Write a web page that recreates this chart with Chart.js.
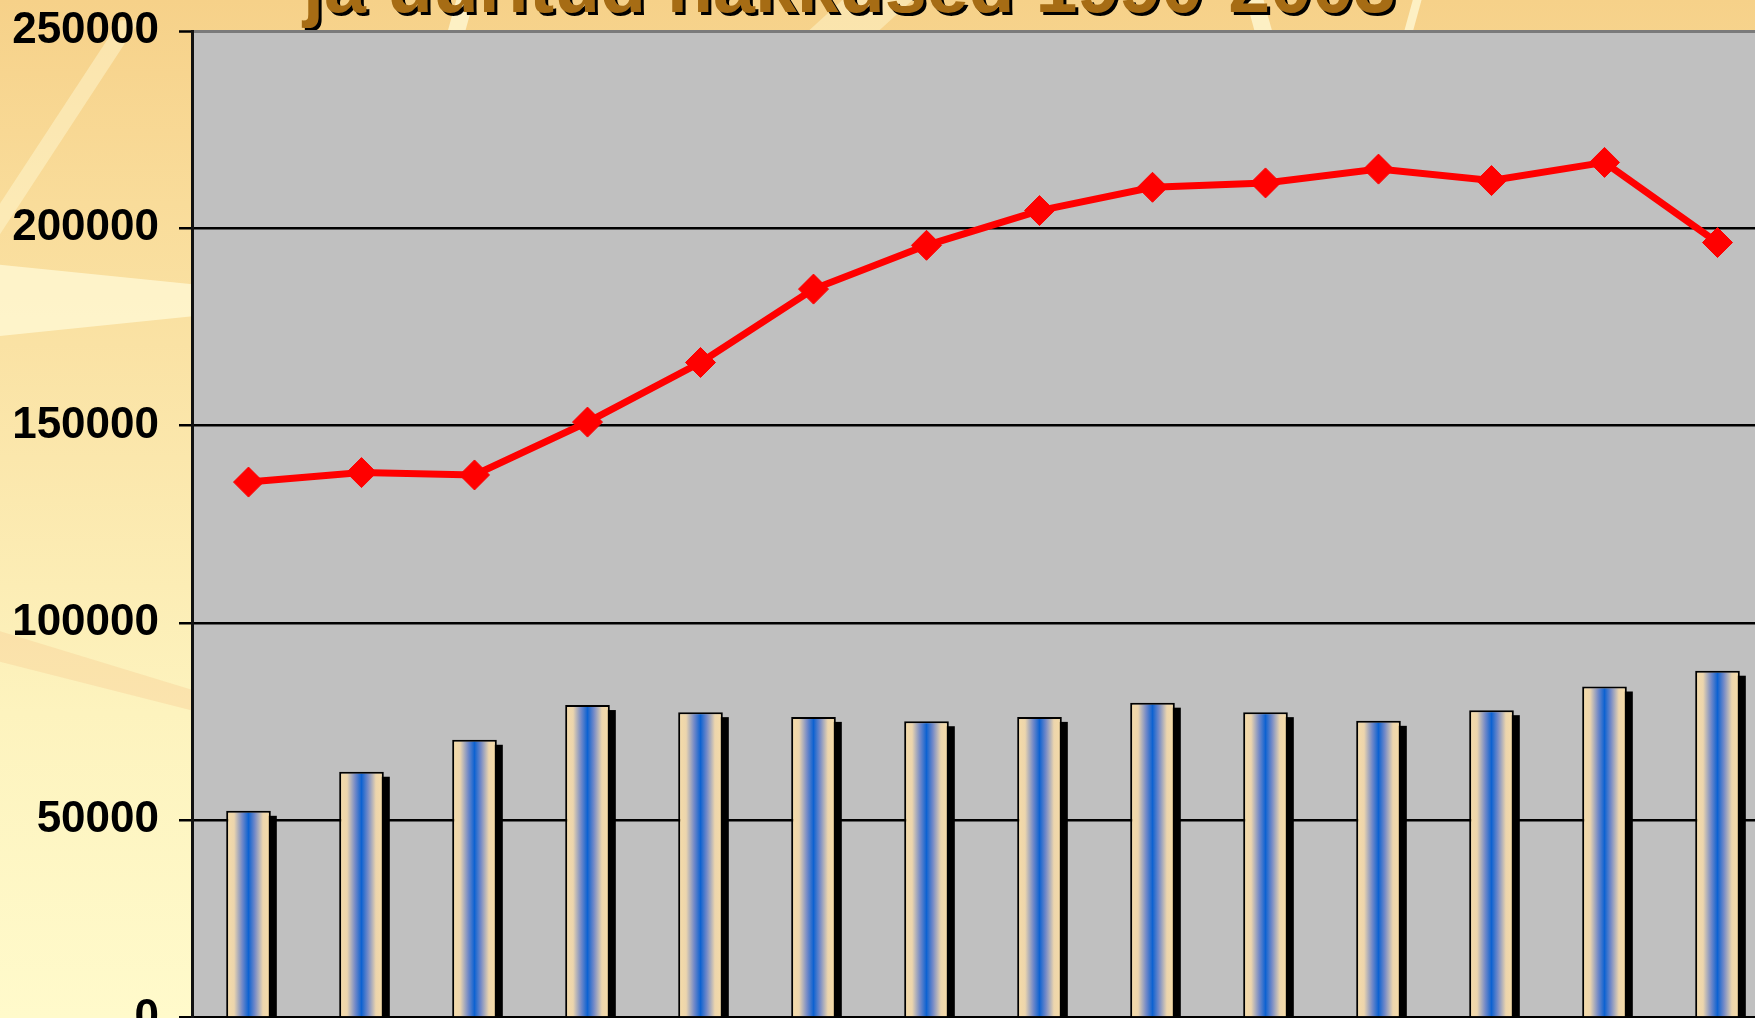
<!DOCTYPE html>
<html>
<head>
<meta charset="utf-8">
<script src="https://cdn.jsdelivr.net/npm/chart.js@4.4.0/dist/chart.umd.min.js"></script>
<style>
html, body { margin: 0; padding: 0; width: 1755px; height: 1018px; overflow: hidden; }
body {
    position: relative;
    font-family: "Liberation Sans", Arial, sans-serif;
    background: linear-gradient(to bottom, #f6d189 0%, #f9dc9a 20%, #fbe7ac 45%, #fdf3be 70%, #fffacb 100%);
}
.streak { position: absolute; background: rgba(255, 250, 215, 0.75); }
#title {
    position: absolute;
    left: 303px;
    white-space: nowrap;
    font-weight: bold;
    color: #a66c14;
    text-shadow: 3px 3px 0 #000;
    line-height: 1;
}
#wrap { position: absolute; left: 0; top: 0; width: 1790px; height: 1080px; }
</style>
</head>
<body>
<!-- background streaks -->
<div class="streak" style="left:0;top:0;width:200px;height:1018px;clip-path:polygon(0 26%,100% 28%,100% 31%,0 33%);"></div>
<div class="streak" style="left:0;top:0;width:200px;height:1018px;clip-path:polygon(0 20%,60% 2%,70% 2%,0 23%);opacity:.6;"></div>
<div class="streak" style="left:0;top:0;width:200px;height:1018px;clip-path:polygon(0 62%,100% 68%,100% 70%,0 65%);opacity:.35;background:#f5c890;"></div>
<div class="streak" style="left:0;top:0;width:1755px;height:32px;clip-path:polygon(26% 0,27% 0,26.5% 100%,25.5% 100%);"></div>
<div class="streak" style="left:0;top:0;width:1755px;height:32px;clip-path:polygon(48% 0,52% 0,50% 100%,46% 100%);opacity:.6;"></div>
<div class="streak" style="left:0;top:0;width:1755px;height:32px;clip-path:polygon(71% 0,72% 0,72.5% 100%,71.5% 100%);"></div>
<div class="streak" style="left:0;top:0;width:1755px;height:32px;clip-path:polygon(80.5% 0,81% 0,80.5% 100%,80% 100%);"></div>

<div id="title">ja uuritud nakkused 1990-2003</div>
<div id="wrap"><canvas id="chart" width="1790" height="1080"></canvas></div>

<script>
// DATA
const years = ['1990', '1991', '1992', '1993', '1994', '1995', '1996', '1997', '1998', '1999', '2000', '2001', '2002', '2003'];
const barValues = [52400, 62300, 70400, 79200, 77400, 76200, 75100, 76200, 79800, 77400, 75200, 77900, 83900, 87900];
const lineValues = [135700, 138100, 137500, 150900, 166000, 184600, 195700, 204500, 210400, 211500, 215000, 212100, 216700, 196400];
const yTicks = [0, 50000, 100000, 150000, 200000, 250000];

// TITLE - fit text to the width it has in the picture, baseline near the top edge
let title = document.getElementById('title');
let m = document.createElement('canvas').getContext('2d');
m.font = 'bold 100px "Liberation Sans"';
let fontSize = 100 * 1093 / m.measureText(title.textContent).width;
title.style.fontSize = fontSize + 'px';
title.style.top = (13 - 0.8465 * fontSize) + 'px';

// BAR FILL
function barFill(context) {
    let chart = context.chart;
    if (!chart.chartArea || context.dataIndex === undefined) return '#f6dca6';
    let x = chart.scales.x.getPixelForValue(context.dataIndex);
    let w = 45;
    let g = chart.ctx.createLinearGradient(x - w / 2, 0, x + w / 2, 0);
    g.addColorStop(0, '#f7dca6');
    g.addColorStop(0.18, '#ecd5ad');
    g.addColorStop(0.36, '#7289c8');
    g.addColorStop(0.5, '#0d62d1');
    g.addColorStop(0.64, '#7289c8');
    g.addColorStop(0.82, '#ecd5ad');
    g.addColorStop(1, '#f7dca6');
    return g;
}

const plotBackground = {
    id: 'plotBackground',
    beforeDraw(chart) {
        let { ctx, chartArea } = chart;
        ctx.save();
        ctx.fillStyle = '#c0c0c0';
        ctx.fillRect(chartArea.left, chartArea.top, chartArea.right - chartArea.left, chartArea.bottom - chartArea.top);
        ctx.restore();
    }
};

// black drop shadow behind each bar, taken from the bar elements
const barShadow = {
    id: 'barShadow',
    beforeDatasetDraw(chart, args) {
        if (args.index !== 0) return;
        let ctx = chart.ctx;
        let area = chart.chartArea;
        ctx.save();
        ctx.beginPath();
        ctx.rect(area.left, area.top, area.right - area.left, area.bottom - area.top);
        ctx.clip();
        ctx.fillStyle = '#000';
        chart.getDatasetMeta(0).data.forEach(bar => {
            let p = bar.getProps(['x', 'y', 'base', 'width'], true);
            ctx.fillRect(p.x - p.width / 2 + 6, p.y + 5, p.width, p.base - p.y);
        });
        ctx.restore();
    }
};

const tickFont = { family: '"Liberation Sans", Arial, sans-serif', size: 44, weight: 'bold' };

new Chart(document.getElementById('chart'), {
    type: 'bar',
    data: {
        labels: years,
        datasets: [{
            type: 'bar',
            data: barValues,
            order: 2,
            backgroundColor: barFill,
            borderColor: '#000',
            borderWidth: 2,
            borderSkipped: 'bottom',
            barPercentage: 0.395,
            categoryPercentage: 1
        }, {
            type: 'line',
            data: lineValues,
            order: 1,
            borderColor: '#ff0000',
            borderWidth: 7,
            tension: 0,
            pointStyle: 'rectRot',
            pointRadius: 15,
            pointBackgroundColor: '#ff0000',
            pointBorderColor: '#ff0000',
            pointBorderWidth: 1
        }]
    },
    options: {
        responsive: false,
        devicePixelRatio: 1,
        animation: false,
        layout: { padding: { top: 31, right: 13.2, left: 0, bottom: 0 } },
        plugins: { legend: { display: false }, tooltip: { enabled: false } },
        scales: {
            x: {
                offset: true,
                grid: { display: false },
                border: { display: false },
                ticks: { font: tickFont, color: '#000', maxRotation: 0, autoSkip: false, padding: 10 },
                afterFit(s) { s.height = 62.4; s.paddingLeft = 0; s.paddingRight = 0; }
            },
            y: {
                min: 0,
                max: 250000,
                afterBuildTicks(s) { s.ticks = yTicks.map(v => ({ value: v })); },
                ticks: { font: tickFont, color: '#000', padding: 20, callback: v => String(v) },
                grid: {
                    color: ctx => ctx.tick && ctx.tick.value === 250000 ? '#7a7a7a' : '#000',
                    lineWidth: ctx => ctx.tick && ctx.tick.value === 250000 ? 3 : 2.5,
                    tickColor: '#000',
                    tickWidth: 2.5,
                    tickLength: 13
                },
                border: { color: '#111', width: 3 },
                afterFit(s) { s.width = 192; s.paddingTop = 0; s.paddingBottom = 0; }
            }
        }
    },
    plugins: [plotBackground, barShadow]
});
</script>
</body>
</html>
